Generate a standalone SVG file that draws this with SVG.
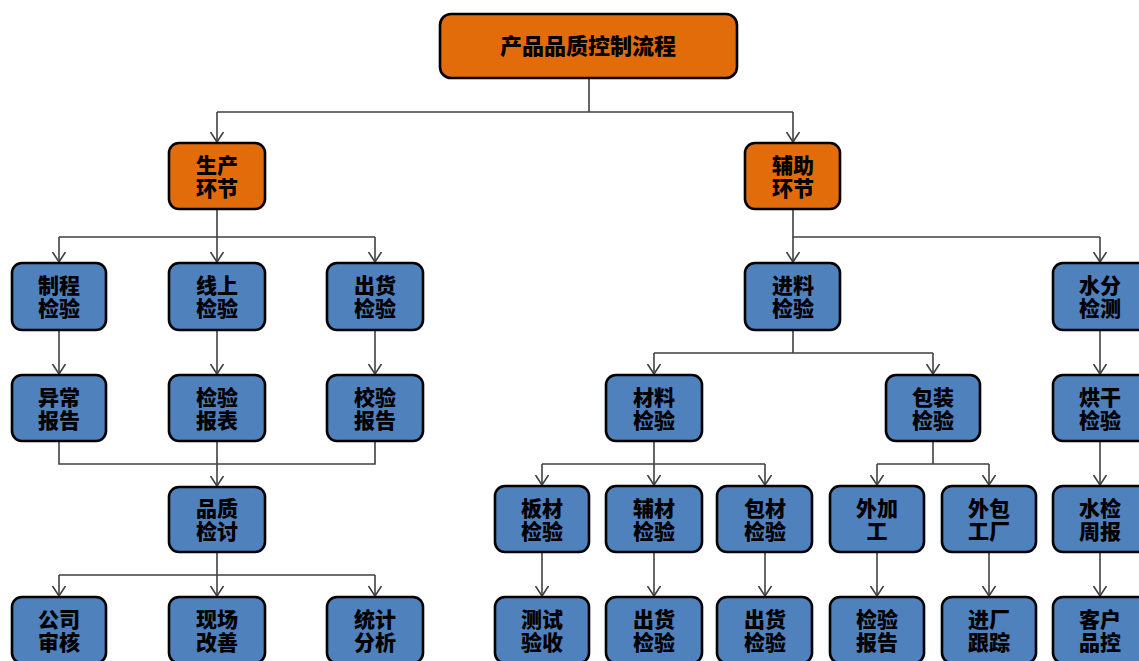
<svg xmlns="http://www.w3.org/2000/svg" width="1139" height="661" viewBox="0 0 1139 661">
  <style>
    .box { stroke: #000; stroke-width: 2.6; }
    .orange { fill: #E36C0A; }
    .blue { fill: #4F81BD; }
    .lbl { font-family: "Liberation Sans", "Noto Sans CJK SC", sans-serif; font-weight: 900; font-size: 21px; fill: #000; text-anchor: middle; dominant-baseline: central; }
    .title { font-size: 22px; }
    .conn { fill: none; stroke: #404040; stroke-width: 1.6; }
  </style>
  <defs>
    <marker id="arrow" markerUnits="userSpaceOnUse" viewBox="0 0 10 14" refX="10" refY="7" markerWidth="10" markerHeight="14" orient="auto">
      <path d="M0,0.5 L10,7 L0,13.5" fill="none" stroke="#404040" stroke-width="1.6"/>
    </marker>
  </defs>
  <rect width="1139" height="661" fill="#fff"/>

  <!-- connectors -->
  <g id="connectors" class="conn">
    <path d="M589,78 V112 M217,112 H793"/>
    <path d="M217,112 V142" marker-end="url(#arrow)"/>
    <path d="M793,112 V142" marker-end="url(#arrow)"/>

    <!-- production branch -->
    <path d="M217,209 V237 M59,237 H375"/>
    <path d="M59,237 V262" marker-end="url(#arrow)"/>
    <path d="M217,237 V262" marker-end="url(#arrow)"/>
    <path d="M375,237 V262" marker-end="url(#arrow)"/>
    <path d="M59,330 V374" marker-end="url(#arrow)"/>
    <path d="M217,330 V374" marker-end="url(#arrow)"/>
    <path d="M375,330 V374" marker-end="url(#arrow)"/>
    <path d="M59,441 V464 H375 V441"/>
    <path d="M217,441 V486" marker-end="url(#arrow)"/>
    <path d="M217,552 V575 M59,575 H375"/>
    <path d="M59,575 V596" marker-end="url(#arrow)"/>
    <path d="M217,575 V596" marker-end="url(#arrow)"/>
    <path d="M375,575 V596" marker-end="url(#arrow)"/>

    <!-- support branch -->
    <path d="M793,209 V237 H1100"/>
    <path d="M793,237 V262" marker-end="url(#arrow)"/>
    <path d="M1100,237 V262" marker-end="url(#arrow)"/>
    <path d="M793,330 V353 M654,353 H933"/>
    <path d="M654,353 V374" marker-end="url(#arrow)"/>
    <path d="M933,353 V374" marker-end="url(#arrow)"/>
    <path d="M1100,330 V374" marker-end="url(#arrow)"/>
    <path d="M654,441 V464 M542,464 H765"/>
    <path d="M542,464 V485" marker-end="url(#arrow)"/>
    <path d="M654,464 V485" marker-end="url(#arrow)"/>
    <path d="M765,464 V485" marker-end="url(#arrow)"/>
    <path d="M933,441 V464 M877,464 H989"/>
    <path d="M877,464 V485" marker-end="url(#arrow)"/>
    <path d="M989,464 V485" marker-end="url(#arrow)"/>
    <path d="M1100,441 V485" marker-end="url(#arrow)"/>
    <path d="M542,552 V596" marker-end="url(#arrow)"/>
    <path d="M654,552 V596" marker-end="url(#arrow)"/>
    <path d="M765,552 V596" marker-end="url(#arrow)"/>
    <path d="M877,552 V596" marker-end="url(#arrow)"/>
    <path d="M989,552 V596" marker-end="url(#arrow)"/>
    <path d="M1100,552 V596" marker-end="url(#arrow)"/>
  </g>

  <!-- root -->
  <g id="n-root">
    <rect class="box orange" x="440" y="14" width="297" height="64" rx="11"/>
    <text class="lbl title" x="588" y="46">产品品质控制流程</text>
  </g>

  <!-- production side -->
  <g id="n-prod">
    <rect class="box orange" x="169" y="143" width="96" height="66" rx="10"/>
    <text class="lbl" x="217" y="164.5"><tspan x="217">生产</tspan><tspan x="217" dy="23.5">环节</tspan></text>
  </g>
  <g id="n-process">
    <rect class="box blue" x="12" y="263" width="94" height="67" rx="10"/>
    <text class="lbl" x="59" y="284.5"><tspan x="59">制程</tspan><tspan x="59" dy="23.5">检验</tspan></text>
  </g>
  <g id="n-online">
    <rect class="box blue" x="169" y="263" width="96" height="67" rx="10"/>
    <text class="lbl" x="217" y="284.5"><tspan x="217">线上</tspan><tspan x="217" dy="23.5">检验</tspan></text>
  </g>
  <g id="n-outgoing">
    <rect class="box blue" x="327" y="263" width="96" height="67" rx="10"/>
    <text class="lbl" x="375" y="284.5"><tspan x="375">出货</tspan><tspan x="375" dy="23.5">检验</tspan></text>
  </g>
  <g id="n-abnormal">
    <rect class="box blue" x="12" y="375" width="94" height="66" rx="10"/>
    <text class="lbl" x="59" y="396.5"><tspan x="59">异常</tspan><tspan x="59" dy="23.5">报告</tspan></text>
  </g>
  <g id="n-insp-sheet">
    <rect class="box blue" x="169" y="375" width="96" height="66" rx="10"/>
    <text class="lbl" x="217" y="396.5"><tspan x="217">检验</tspan><tspan x="217" dy="23.5">报表</tspan></text>
  </g>
  <g id="n-verify-report">
    <rect class="box blue" x="327" y="375" width="96" height="66" rx="10"/>
    <text class="lbl" x="375" y="396.5"><tspan x="375">校验</tspan><tspan x="375" dy="23.5">报告</tspan></text>
  </g>
  <g id="n-review">
    <rect class="box blue" x="169" y="487" width="96" height="65" rx="10"/>
    <text class="lbl" x="217" y="507.5"><tspan x="217">品质</tspan><tspan x="217" dy="23.5">检讨</tspan></text>
  </g>
  <g id="n-audit">
    <rect class="box blue" x="12" y="597" width="94" height="66" rx="10"/>
    <text class="lbl" x="59" y="618.5"><tspan x="59">公司</tspan><tspan x="59" dy="23.5">审核</tspan></text>
  </g>
  <g id="n-onsite">
    <rect class="box blue" x="169" y="597" width="96" height="66" rx="10"/>
    <text class="lbl" x="217" y="618.5"><tspan x="217">现场</tspan><tspan x="217" dy="23.5">改善</tspan></text>
  </g>
  <g id="n-stats">
    <rect class="box blue" x="327" y="597" width="96" height="66" rx="10"/>
    <text class="lbl" x="375" y="618.5"><tspan x="375">统计</tspan><tspan x="375" dy="23.5">分析</tspan></text>
  </g>

  <!-- support side -->
  <g id="n-support">
    <rect class="box orange" x="745" y="143" width="95" height="66" rx="10"/>
    <text class="lbl" x="793" y="164.5"><tspan x="793">辅助</tspan><tspan x="793" dy="23.5">环节</tspan></text>
  </g>
  <g id="n-incoming">
    <rect class="box blue" x="745" y="263" width="95" height="67" rx="10"/>
    <text class="lbl" x="793" y="284.5"><tspan x="793">进料</tspan><tspan x="793" dy="23.5">检验</tspan></text>
  </g>
  <g id="n-moisture">
    <rect class="box blue" x="1053" y="263" width="95" height="67" rx="10"/>
    <text class="lbl" x="1100" y="284.5"><tspan x="1100">水分</tspan><tspan x="1100" dy="23.5">检测</tspan></text>
  </g>
  <g id="n-material">
    <rect class="box blue" x="606" y="375" width="96" height="66" rx="10"/>
    <text class="lbl" x="654" y="396.5"><tspan x="654">材料</tspan><tspan x="654" dy="23.5">检验</tspan></text>
  </g>
  <g id="n-packing">
    <rect class="box blue" x="886" y="375" width="94" height="66" rx="10"/>
    <text class="lbl" x="933" y="396.5"><tspan x="933">包装</tspan><tspan x="933" dy="23.5">检验</tspan></text>
  </g>
  <g id="n-drying">
    <rect class="box blue" x="1053" y="375" width="95" height="66" rx="10"/>
    <text class="lbl" x="1100" y="396.5"><tspan x="1100">烘干</tspan><tspan x="1100" dy="23.5">检验</tspan></text>
  </g>
  <g id="n-board">
    <rect class="box blue" x="495" y="486" width="94" height="66" rx="10"/>
    <text class="lbl" x="542" y="507.5"><tspan x="542">板材</tspan><tspan x="542" dy="23.5">检验</tspan></text>
  </g>
  <g id="n-auxiliary">
    <rect class="box blue" x="606" y="486" width="96" height="66" rx="10"/>
    <text class="lbl" x="654" y="507.5"><tspan x="654">辅材</tspan><tspan x="654" dy="23.5">检验</tspan></text>
  </g>
  <g id="n-packmat">
    <rect class="box blue" x="717" y="486" width="95" height="66" rx="10"/>
    <text class="lbl" x="765" y="507.5"><tspan x="765">包材</tspan><tspan x="765" dy="23.5">检验</tspan></text>
  </g>
  <g id="n-outsourced">
    <rect class="box blue" x="830" y="486" width="94" height="66" rx="10"/>
    <text class="lbl" x="877" y="507.5"><tspan x="877">外加</tspan><tspan x="877" dy="23.5">工</tspan></text>
  </g>
  <g id="n-subcontractor">
    <rect class="box blue" x="942" y="486" width="94" height="66" rx="10"/>
    <text class="lbl" x="989" y="507.5"><tspan x="989">外包</tspan><tspan x="989" dy="23.5">工厂</tspan></text>
  </g>
  <g id="n-weekly">
    <rect class="box blue" x="1053" y="486" width="95" height="66" rx="10"/>
    <text class="lbl" x="1100" y="507.5"><tspan x="1100">水检</tspan><tspan x="1100" dy="23.5">周报</tspan></text>
  </g>
  <g id="n-acceptance">
    <rect class="box blue" x="495" y="597" width="94" height="66" rx="10"/>
    <text class="lbl" x="542" y="618.5"><tspan x="542">测试</tspan><tspan x="542" dy="23.5">验收</tspan></text>
  </g>
  <g id="n-ship1">
    <rect class="box blue" x="606" y="597" width="96" height="66" rx="10"/>
    <text class="lbl" x="654" y="618.5"><tspan x="654">出货</tspan><tspan x="654" dy="23.5">检验</tspan></text>
  </g>
  <g id="n-ship2">
    <rect class="box blue" x="717" y="597" width="95" height="66" rx="10"/>
    <text class="lbl" x="765" y="618.5"><tspan x="765">出货</tspan><tspan x="765" dy="23.5">检验</tspan></text>
  </g>
  <g id="n-insp-report">
    <rect class="box blue" x="830" y="597" width="94" height="66" rx="10"/>
    <text class="lbl" x="877" y="618.5"><tspan x="877">检验</tspan><tspan x="877" dy="23.5">报告</tspan></text>
  </g>
  <g id="n-tracking">
    <rect class="box blue" x="942" y="597" width="94" height="66" rx="10"/>
    <text class="lbl" x="989" y="618.5"><tspan x="989">进厂</tspan><tspan x="989" dy="23.5">跟踪</tspan></text>
  </g>
  <g id="n-customer">
    <rect class="box blue" x="1053" y="597" width="95" height="66" rx="10"/>
    <text class="lbl" x="1100" y="618.5"><tspan x="1100">客户</tspan><tspan x="1100" dy="23.5">品控</tspan></text>
  </g>
</svg>
